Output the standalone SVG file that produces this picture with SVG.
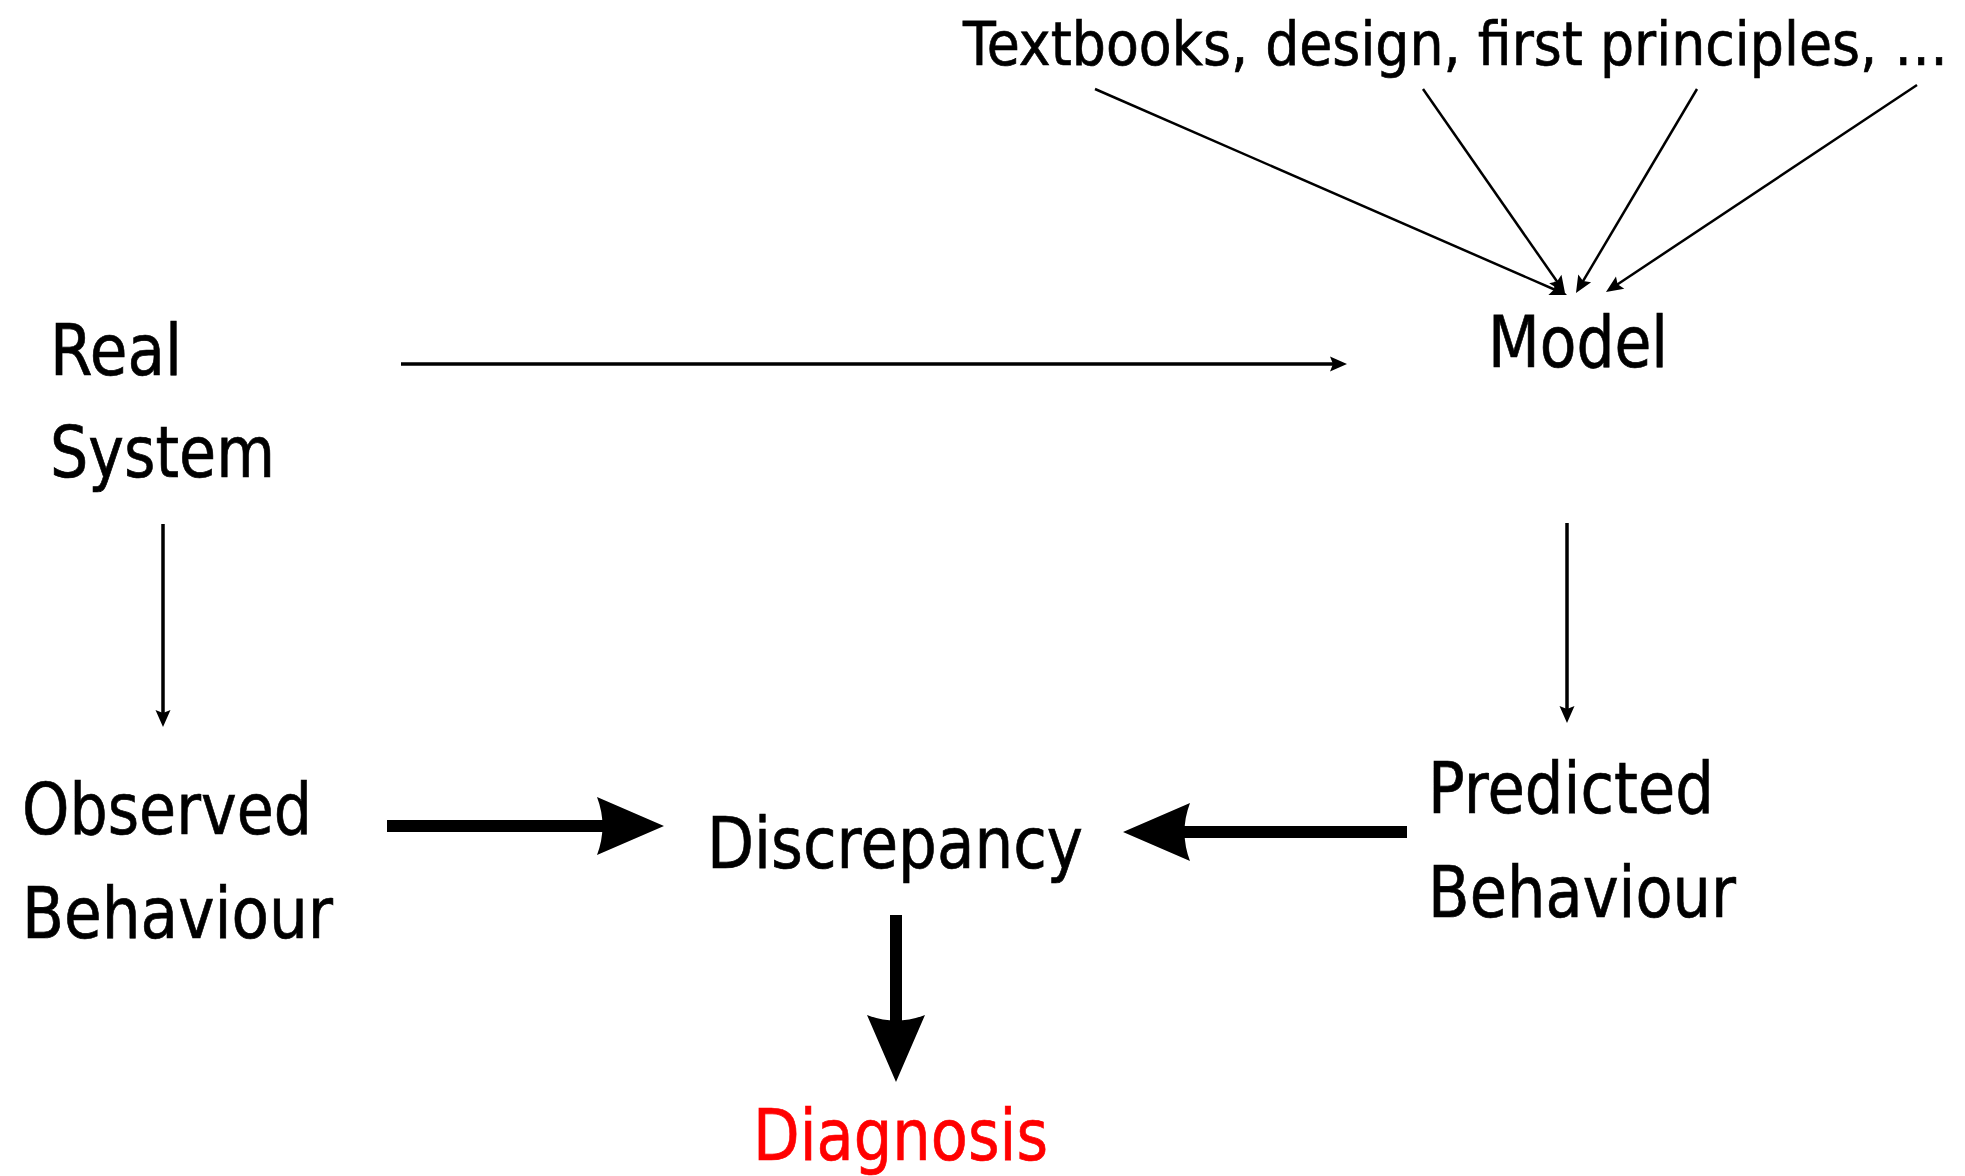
<svg xmlns="http://www.w3.org/2000/svg" width="1965" height="1176" viewBox="0 0 1965 1176">
<style>
  text { font-family: "DejaVu Sans", "Liberation Sans", sans-serif; fill: #000; stroke: #000; stroke-width: 0.7; }
  .lbl { font-size: 72px; }
  .src { font-size: 60px; }
  .red { fill: #FF0000; stroke: #FF0000; }
  .thin { stroke: #000; stroke-width: 3.5; fill: none; marker-end: url(#thinHead); }
  .hair { stroke: #000; stroke-width: 2.5; fill: none; marker-end: url(#thinHead); }
  .thick { stroke: #000; stroke-width: 12; fill: none; marker-end: url(#thickHead); }
</style>
<defs>
  <marker id="thinHead" markerUnits="userSpaceOnUse" viewBox="-20 -10 22 20" markerWidth="22" markerHeight="20" refX="-10" refY="0" orient="auto">
    <path d="M0,0 L-17,-7.5 L-14,0 L-17,7.5 Z" fill="#000"/>
  </marker>
  <marker id="thickHead" markerUnits="userSpaceOnUse" viewBox="-72 -32 76 64" markerWidth="76" markerHeight="64" refX="-60" refY="0" orient="auto">
    <path d="M0,0 L-67,-29 Q-56,0 -67,29 Z" fill="#000"/>
  </marker>
</defs>
<rect width="1965" height="1176" fill="#fff"/>

<g id="connectors">
  <line class="thin" x1="401" y1="364" x2="1337" y2="364"/>
  <line class="thin" x1="163" y1="524" x2="163" y2="717"/>
  <line class="thin" x1="1567" y1="523" x2="1567" y2="713"/>
  <line class="hair" x1="1095" y1="89" x2="1557.8" y2="291"/>
  <line class="hair" x1="1423" y1="89" x2="1559.3" y2="284.8"/>
  <line class="hair" x1="1697" y1="89" x2="1581.1" y2="284.4"/>
  <line class="hair" x1="1917" y1="85" x2="1614.3" y2="286.5"/>
  <line class="thick" x1="387" y1="826" x2="604" y2="826"/>
  <line class="thick" x1="1407" y1="832" x2="1183" y2="832"/>
  <line class="thick" x1="896" y1="915" x2="896" y2="1022"/>
</g>

<g id="sources">
  <text class="src" x="963" y="65" textLength="985" lengthAdjust="spacingAndGlyphs">Textbooks, design, first principles, …</text>
</g>
<g id="model">
  <text class="lbl" x="1488" y="367" textLength="180" lengthAdjust="spacingAndGlyphs">Model</text>
</g>
<g id="real-system">
  <text class="lbl" x="50" y="375" textLength="132" lengthAdjust="spacingAndGlyphs">Real</text>
  <text class="lbl" x="50" y="477" textLength="225" lengthAdjust="spacingAndGlyphs">System</text>
</g>
<g id="observed-behaviour">
  <text class="lbl" x="22" y="834" textLength="290" lengthAdjust="spacingAndGlyphs">Observed</text>
  <text class="lbl" x="22" y="938" textLength="311" lengthAdjust="spacingAndGlyphs">Behaviour</text>
</g>
<g id="discrepancy">
  <text class="lbl" x="707" y="868" textLength="376" lengthAdjust="spacingAndGlyphs">Discrepancy</text>
</g>
<g id="predicted-behaviour">
  <text class="lbl" x="1428" y="813" textLength="286" lengthAdjust="spacingAndGlyphs">Predicted</text>
  <text class="lbl" x="1428" y="917" textLength="308" lengthAdjust="spacingAndGlyphs">Behaviour</text>
</g>
<g id="diagnosis">
  <text class="lbl red" x="753" y="1160" textLength="295" lengthAdjust="spacingAndGlyphs">Diagnosis</text>
</g>
</svg>
